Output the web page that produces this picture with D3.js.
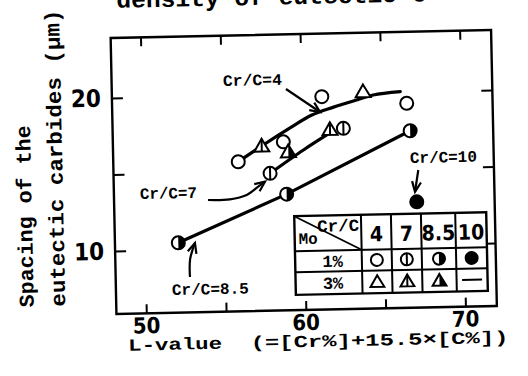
<!DOCTYPE html>
<html><head><meta charset="utf-8">
<script src="https://cdn.jsdelivr.net/npm/d3@7/dist/d3.min.js"></script>
<style>html,body{margin:0;padding:0;background:#fff;} svg{display:block;}</style>
</head><body>
<svg id="chart" width="528" height="376"></svg>
<script>
// ---------- data ----------
const xTicks = [50, 55, 60, 65, 70];
const xTickLabels = [50, 60, 70];
const yTicks = [10, 15, 20];
const yTickLabels = [10, 20];

// Mo 1% / 3% markers for each Cr/C ratio (L-value, spacing in µm)
const cr4Mo1L = [55.96, 58.81, 61.28, 66.59];
const cr4Mo1S = [15.66, 16.9, 19.8, 19.25];
const cr4Mo3L = [63.87];
const cr4Mo3S = [20.07];
const cr7Mo1L = [57.94, 62.59];
const cr7Mo1S = [14.86, 17.7];
const cr7Mo3L = [57.45, 61.75];
const cr7Mo3S = [16.66, 17.65];
const cr85Mo1L = [52.1, 58.95, 66.77];
const cr85Mo1S = [10.45, 13.48, 17.45];
const cr85Mo3L = [59.11];
const cr85Mo3S = [16.25];
const cr10Mo1L = [67.09];
const cr10Mo1S = [12.8];

// trend curves
const curve4L = [55.96, 57.45, 59.25, 60.6, 62.0, 63.5, 64.5, 66.2];
const curve4S = [15.66, 16.66, 17.8, 18.6, 19.1, 19.55, 19.84, 20.02];
const curve7L = [57.94, 60.06, 61.54];
const curve7S = [14.86, 16.34, 17.29];
const curve85L = [52.1, 58.95, 66.77];
const curve85S = [10.45, 13.48, 17.45];

// legend table
const legendCols = ["4", "7", "8.5", "10"];
const legendRows = ["1%", "3%"];
const legendSymbols = [["circle-open", "circle-line", "circle-half", "circle-filled"],
                       ["tri-open", "tri-line", "tri-half", "dash"]];

// ---------- drawing ----------
const svg = d3.select("#chart");
const root = svg.append("g").attr("transform", "rotate(-1.2,302.5,172)");
const MONO = "'Liberation Mono','DejaVu Sans Mono',monospace";
const NUM = "'Liberation Sans Narrow','DejaVu Sans Condensed','Liberation Sans',sans-serif";

const x = d3.scaleLinear().domain([48.13, 71.97]).range([113.5, 494]);
const y = d3.scaleLinear().domain([5.89, 23.92]).range([310, 34]);

// frame
root.append("rect").attr("x", x.range()[0]).attr("y", y.range()[1])
  .attr("width", x.range()[1] - x.range()[0]).attr("height", y.range()[0] - y.range()[1])
  .attr("fill", "none").attr("stroke", "#000").attr("stroke-width", 2.4);

function styleAxis(g) {
  g.select(".domain").remove();
  g.selectAll(".tick line").attr("stroke", "#000").attr("stroke-width", 2);
  g.selectAll(".tick text").remove();
}
root.append("g").attr("transform", `translate(0,${y.range()[0]})`)
  .call(d3.axisBottom(x).tickValues(xTicks).tickSize(-9)).call(styleAxis);
root.append("g").attr("transform", `translate(0,${y.range()[1]})`)
  .call(d3.axisTop(x).tickValues(xTicks).tickSize(-9)).call(styleAxis);
root.append("g").attr("transform", `translate(${x.range()[0]},0)`)
  .call(d3.axisLeft(y).tickValues(yTicks).tickSize(-11)).call(styleAxis);
root.append("g").attr("transform", `translate(${x.range()[1]},0)`)
  .call(d3.axisRight(y).tickValues(yTicks).tickSize(-11)).call(styleAxis);

// tick labels
root.selectAll(".xl").data(xTickLabels).enter().append("text")
  .attr("x", d => x(d)).attr("y", 330).attr("text-anchor", "middle")
  .attr("font-family", NUM).attr("font-weight", "bold").attr("font-size", 22)
  .text(d => d);
root.selectAll(".yl").data(yTickLabels).enter().append("text")
  .attr("x", 102.5).attr("y", d => y(d) + 8.5).attr("text-anchor", "end")
  .attr("font-family", NUM).attr("font-weight", "bold").attr("font-size", 24)
  .text(d => d);

// axis titles
function txt(s, tx, ty, size, len, rot) {
  const t = root.append("text").attr("font-family", MONO).attr("font-weight", "bold")
    .attr("font-size", size).text(s);
  if (rot) t.attr("transform", `translate(${tx},${ty}) rotate(-90)`);
  else t.attr("x", tx).attr("y", ty);
  if (len) t.attr("textLength", len).attr("lengthAdjust", "spacingAndGlyphs");
  return t;
}
txt("density of eutectic C", 120, 4, 24, 310);
txt("Spacing of the", 31, 301.5, 21, 182, true);
txt("eutectic carbides (\u03bcm)", 62.5, 301.5, 21, 297, true);
txt("L-value", 124.5, 347, 17, 94);
txt("(=[Cr%]+15.5\u00d7[C%])", 247, 347, 17, 258);

// curves
const line = d3.line().x(d => x(d[0])).y(d => y(d[1]));
function drawCurve(L, S, curve) {
  root.append("path").datum(L.map((v, i) => [v, S[i]]))
    .attr("d", line.curve(curve)).attr("fill", "none")
    .attr("stroke", "#000").attr("stroke-width", 3.2).attr("stroke-linecap", "round");
}
drawCurve(curve4L, curve4S, d3.curveCatmullRom);
drawCurve(curve7L, curve7S, d3.curveCatmullRom);
drawCurve(curve85L, curve85S, d3.curveLinear);

// symbols
function sym(g, type, cx, cy, s) {
  const sw = 2;
  if (type.startsWith("circle")) {
    g.append("circle").attr("cx", cx).attr("cy", cy).attr("r", s)
      .attr("fill", type === "circle-filled" ? "#000" : "#fff")
      .attr("stroke", "#000").attr("stroke-width", sw);
    if (type === "circle-line")
      g.append("line").attr("x1", cx).attr("x2", cx).attr("y1", cy - s).attr("y2", cy + s)
        .attr("stroke", "#000").attr("stroke-width", sw);
    if (type === "circle-half")
      g.append("path").attr("d", `M${cx},${cy - s}A${s},${s} 0 0 1 ${cx},${cy + s}Z`).attr("fill", "#000");
  } else if (type.startsWith("tri")) {
    const top = cy - s * 1.1, bot = cy + s * 0.85, hw = s * 1.15;
    g.append("path").attr("d", `M${cx},${top}L${cx + hw},${bot}L${cx - hw},${bot}Z`)
      .attr("fill", "#fff").attr("stroke", "#000").attr("stroke-width", sw).attr("stroke-linejoin", "miter");
    if (type === "tri-line")
      g.append("line").attr("x1", cx).attr("x2", cx).attr("y1", top).attr("y2", bot)
        .attr("stroke", "#000").attr("stroke-width", sw);
    if (type === "tri-half")
      g.append("path").attr("d", `M${cx},${top}L${cx + hw},${bot}L${cx},${bot}Z`).attr("fill", "#000");
  } else if (type === "dash") {
    g.append("line").attr("x1", cx - 10).attr("x2", cx + 10).attr("y1", cy).attr("y2", cy)
      .attr("stroke", "#000").attr("stroke-width", 2);
  }
}
const mg = root.append("g");
function drawPts(L, S, type) {
  L.forEach((v, i) => sym(mg, type, x(v), y(S[i]), 6.5));
}
drawPts(cr4Mo1L, cr4Mo1S, "circle-open");
drawPts(cr4Mo3L, cr4Mo3S, "tri-open");
drawPts(cr7Mo1L, cr7Mo1S, "circle-line");
drawPts(cr7Mo3L, cr7Mo3S, "tri-line");
drawPts(cr85Mo1L, cr85Mo1S, "circle-half");
drawPts(cr85Mo3L, cr85Mo3S, "tri-half");
drawPts(cr10Mo1L, cr10Mo1S, "circle-filled");

// annotations with arrows
function arrow(pts) {
  root.append("path").attr("d", d3.line().curve(d3.curveCatmullRom)(pts))
    .attr("fill", "none").attr("stroke", "#000").attr("stroke-width", 2.2);
  const [a, b] = [pts[pts.length - 2], pts[pts.length - 1]];
  const ang = Math.atan2(b[1] - a[1], b[0] - a[0]);
  const L = 11, sp = 0.42;
  const p1 = [b[0] - L * Math.cos(ang - sp), b[1] - L * Math.sin(ang - sp)];
  const p2 = [b[0] - L * Math.cos(ang + sp), b[1] - L * Math.sin(ang + sp)];
  root.append("path").attr("d", `M${p1}L${b}L${p2}`).attr("fill", "none")
    .attr("stroke", "#000").attr("stroke-width", 2.2);
}
txt("Cr/C=4", 224.8, 84.3, 16, 59);
arrow([[287.7, 88.7], [321.3, 112.4]]);
txt("Cr/C=7", 139.4, 195.6, 16, 57);
arrow([[207.4, 198], [229.4, 197.8], [246.2, 193.8], [257.9, 185.8], [264.8, 180.9]]);
txt("Cr/C=8.5", 169.4, 292.3, 16, 77);
arrow([[187.8, 274.6], [188.3, 257], [193.5, 240.7]]);
txt("Cr/C=10", 410.2, 165.3, 16, 67);
arrow([[418.3, 172.4], [414.6, 194.1]]);

// legend table
const colX = [293.3, 360, 390, 420, 454.3, 485.3];
const rowY = [216, 251, 272, 294.7];
const lg = root.append("g");
lg.append("rect").attr("x", colX[0]).attr("y", rowY[0])
  .attr("width", colX[5] - colX[0]).attr("height", rowY[3] - rowY[0])
  .attr("fill", "#fff").attr("stroke", "#000").attr("stroke-width", 2.4);
colX.slice(1, 5).forEach(cx => lg.append("line").attr("x1", cx).attr("x2", cx)
  .attr("y1", rowY[0]).attr("y2", rowY[3]).attr("stroke", "#000").attr("stroke-width", 2));
rowY.slice(1, 3).forEach(ry => lg.append("line").attr("x1", colX[0]).attr("x2", colX[5])
  .attr("y1", ry).attr("y2", ry).attr("stroke", "#000").attr("stroke-width", 2));
lg.append("line").attr("x1", colX[0]).attr("y1", rowY[0]).attr("x2", colX[1]).attr("y2", rowY[1])
  .attr("stroke", "#000").attr("stroke-width", 1.8);
lg.append("text").attr("x", colX[1] - 2).attr("y", rowY[0] + 16).attr("text-anchor", "end")
  .attr("font-family", MONO).attr("font-weight", "bold").attr("font-size", 17)
  .attr("textLength", 42).attr("lengthAdjust", "spacingAndGlyphs").text("Cr/C");
lg.append("text").attr("x", colX[0] + 4).attr("y", rowY[1] - 7)
  .attr("font-family", MONO).attr("font-weight", "bold").attr("font-size", 16)
  .attr("textLength", 19).attr("lengthAdjust", "spacingAndGlyphs").text("Mo");
legendCols.forEach((c, i) => {
  lg.append("text").attr("x", (colX[i + 1] + colX[i + 2]) / 2).attr("y", rowY[1] - 8)
    .attr("text-anchor", "middle").attr("font-family", NUM).attr("font-weight", "bold")
    .attr("font-size", 21).text(c);
});
legendRows.forEach((r, j) => {
  const cy = (rowY[j + 1] + rowY[j + 2]) / 2;
  lg.append("text").attr("x", (colX[0] + colX[1]) / 2 + 4).attr("y", cy + 6)
    .attr("text-anchor", "middle").attr("font-family", MONO).attr("font-weight", "bold")
    .attr("font-size", 17).text(r);
  legendSymbols[j].forEach((t, i) => sym(lg, t, (colX[i + 1] + colX[i + 2]) / 2, cy, 6));
});
</script>
</body></html>
